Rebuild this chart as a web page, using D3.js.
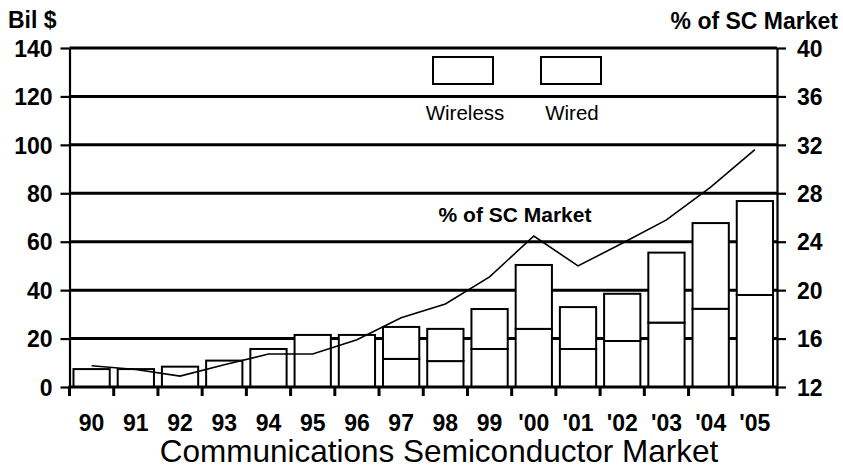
<!DOCTYPE html>
<html>
<head>
<meta charset="utf-8">
<script src="https://cdn.jsdelivr.net/npm/d3@7"></script>
<style>
  html, body { margin: 0; padding: 0; background: #fff; }
  svg { display: block; }
  text { font-family: "Liberation Sans", Arial, Helvetica, sans-serif; fill: #000; }
</style>
</head>
<body>
<svg id="chart" width="843" height="467"></svg>
<script>
// Communications semiconductor market, billions of dollars
const years = ["90", "91", "92", "93", "94", "95", "96", "97", "98", "99", "'00", "'01", "'02", "'03", "'04", "'05"];
// lower segment of each bar (split only reported from 1997 on)
const wireless = [0, 0, 0, 0, 0, 0, 0, 11.6, 10.7, 15.7, 24.0, 15.7, 19.0, 26.6, 32.3, 38.0];
// upper segment of each bar
const wired = [7.4, 7.4, 8.4, 10.9, 15.7, 21.5, 21.5, 13.2, 13.3, 16.5, 26.4, 17.3, 19.5, 28.9, 35.4, 38.8];
// communications share of the total semiconductor market, percent
const shareOfSC = [13.75, 13.45, 12.9, 13.83, 14.72, 14.72, 15.9, 17.72, 18.86, 21.1, 24.47, 22.0, 23.87, 25.8, 28.5, 31.6];

const leftTicks = [0, 20, 40, 60, 80, 100, 120, 140];
const rightTicks = [12, 16, 20, 24, 28, 32, 36, 40];

const svg = d3.select("#chart");
const plotLeft = 69.5, plotRight = 777, plotTop = 48, plotBottom = 387;

const x = d3.scaleBand().domain(years).range([plotLeft, plotRight])
  .paddingInner(0.18).paddingOuter(0.09);
const y = d3.scaleLinear().domain([0, 140]).range([plotBottom, plotTop]);
const y2 = d3.scaleLinear().domain([12, 40]).range([plotBottom, plotTop]);

const rows = years.map((yr, i) => ({ year: yr, wireless: wireless[i], wired: wired[i], share: shareOfSC[i] }));
const stacked = d3.stack().keys(["wireless", "wired"])(rows);

// horizontal rules
svg.append("g").selectAll("line")
  .data(leftTicks.filter(d => d > 0))
  .join("line")
  .attr("x1", plotLeft).attr("x2", plotRight)
  .attr("y1", d => y(d)).attr("y2", d => y(d))
  .attr("stroke", "#000").attr("stroke-width", 3);

// stacked bars
svg.append("g").selectAll("g")
  .data(stacked)
  .join("g")
  .selectAll("rect")
  .data(d => d.filter(s => s[1] - s[0] > 0))
  .join("rect")
  .attr("x", d => x(d.data.year))
  .attr("width", x.bandwidth())
  .attr("y", d => y(d[1]))
  .attr("height", d => y(d[0]) - y(d[1]))
  .attr("fill", "#fff").attr("stroke", "#000").attr("stroke-width", 2);

// share line
const line = d3.line()
  .x(d => x(d.year) + x.bandwidth() / 2)
  .y(d => y2(d.share));
svg.append("path").datum(rows)
  .attr("d", line)
  .attr("fill", "none").attr("stroke", "#000").attr("stroke-width", 1.6);

// left axis
const gl = svg.append("g").attr("transform", `translate(${plotLeft},0)`)
  .call(d3.axisLeft(y).tickValues(leftTicks).tickSize(9).tickSizeOuter(0).tickPadding(8));
gl.select(".domain").attr("stroke-width", 2.2);
gl.selectAll(".tick line").attr("stroke-width", 2.2);
gl.selectAll("text").style("font-size", "23px").style("font-weight", "bold").attr("dy", "0.36em");

// right axis
const gr = svg.append("g").attr("transform", `translate(${plotRight},0)`)
  .call(d3.axisRight(y2).tickValues(rightTicks).tickSize(9).tickSizeOuter(0).tickPadding(11));
gr.select(".domain").attr("stroke-width", 2.2);
gr.selectAll(".tick line").attr("stroke-width", 2.2);
gr.selectAll("text").style("font-size", "23px").style("font-weight", "bold").attr("dy", "0.36em");

// bottom axis: labels centred on bars, ticks between bars
const gb = svg.append("g").attr("transform", `translate(0,${plotBottom})`)
  .call(d3.axisBottom(x).tickSize(0).tickPadding(28));
gb.select(".domain").remove();
gb.selectAll("text").style("font-size", "23px").style("font-weight", "bold");

svg.append("line")
  .attr("x1", plotLeft - 1).attr("x2", plotRight + 1)
  .attr("y1", plotBottom).attr("y2", plotBottom)
  .attr("stroke", "#000").attr("stroke-width", 3);

const step = x.step();
const start = x.range()[0];
svg.append("g").selectAll("line")
  .data(d3.range(years.length + 1))
  .join("line")
  .attr("x1", i => start + i * step).attr("x2", i => start + i * step)
  .attr("y1", plotBottom).attr("y2", plotBottom + 9)
  .attr("stroke", "#000").attr("stroke-width", 3);

// axis titles
svg.append("text").attr("x", 8).attr("y", 28)
  .style("font-size", "23px").style("font-weight", "bold").text("Bil $");
svg.append("text").attr("x", 838).attr("y", 29).attr("text-anchor", "end")
  .style("font-size", "23px").style("font-weight", "bold").text("% of SC Market");

// line label
svg.append("text").attr("x", 515).attr("y", 222).attr("text-anchor", "middle")
  .style("font-size", "21px").style("font-weight", "bold").text("% of SC Market");

// legend
const legend = [
  { name: "Wireless", bx: 433, cx: 465 },
  { name: "Wired", bx: 541, cx: 572 }
];
const lg = svg.append("g").selectAll("g").data(legend).join("g");
lg.append("rect")
  .attr("x", d => d.bx).attr("y", 57).attr("width", 60).attr("height", 27)
  .attr("fill", "#fff").attr("stroke", "#000").attr("stroke-width", 2);
lg.append("text")
  .attr("x", d => d.cx).attr("y", 120).attr("text-anchor", "middle")
  .style("font-size", "20.5px").text(d => d.name);

// chart title
svg.append("text").attr("x", 439).attr("y", 462).attr("text-anchor", "middle")
  .style("font-size", "31.5px").text("Communications Semiconductor Market");
</script>
</body>
</html>
